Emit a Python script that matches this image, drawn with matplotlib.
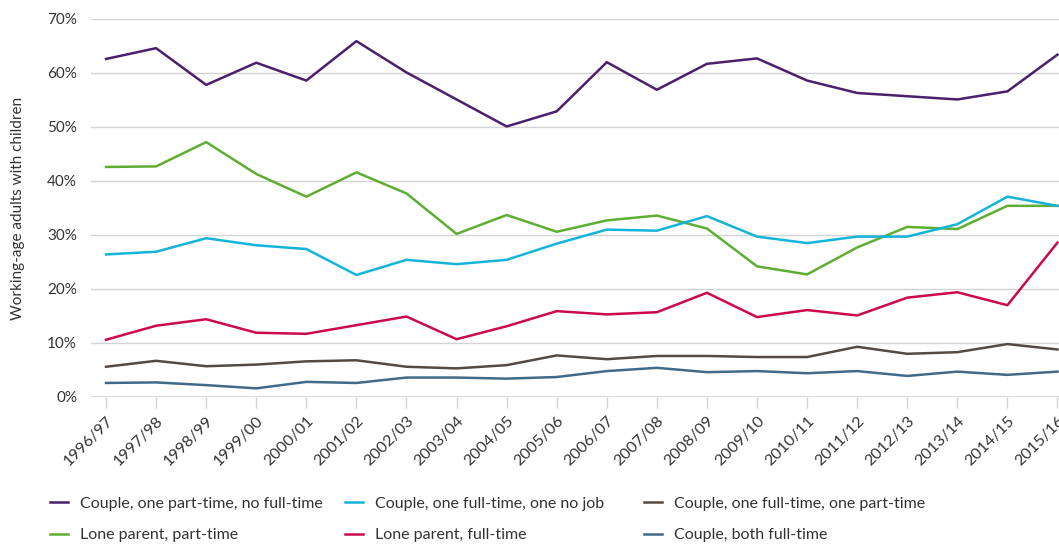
import matplotlib
matplotlib.use("Agg")
import matplotlib.pyplot as plt
from matplotlib.ticker import FuncFormatter

plt.rcParams['font.family'] = ['Lato', 'DejaVu Sans']

years = ["1996/97", "1997/98", "1998/99", "1999/00", "2000/01", "2001/02", "2002/03",
         "2003/04", "2004/05", "2005/06", "2006/07", "2007/08", "2008/09", "2009/10",
         "2010/11", "2011/12", "2012/13", "2013/14", "2014/15", "2015/16"]

couple_pt_no_ft = [62.6, 64.6, 57.8, 61.9, 58.6, 65.9, 60.1, 55.1, 50.1, 52.9,
                   62.0, 56.9, 61.7, 62.7, 58.6, 56.3, 55.7, 55.1, 56.6, 63.4]
lone_pt = [42.6, 42.7, 47.2, 41.3, 37.1, 41.6, 37.7, 30.2, 33.7, 30.6,
           32.7, 33.6, 31.2, 24.2, 22.7, 27.7, 31.5, 31.1, 35.4, 35.4]
couple_ft_nojob = [26.4, 26.9, 29.4, 28.1, 27.4, 22.6, 25.4, 24.6, 25.4, 28.4,
                   31.0, 30.8, 33.5, 29.7, 28.5, 29.7, 29.7, 32.0, 37.1, 35.4]
lone_ft = [10.6, 13.2, 14.4, 11.9, 11.7, 13.3, 14.9, 10.7, 13.1, 15.9,
           15.3, 15.7, 19.3, 14.8, 16.1, 15.1, 18.4, 19.4, 17.0, 28.6]
couple_ft_pt = [5.6, 6.7, 5.7, 6.0, 6.6, 6.8, 5.6, 5.3, 5.9, 7.7,
                7.0, 7.6, 7.6, 7.4, 7.4, 9.3, 8.0, 8.3, 9.8, 8.8]
couple_both_ft = [2.6, 2.7, 2.2, 1.6, 2.8, 2.6, 3.6, 3.6, 3.4, 3.7,
                  4.8, 5.4, 4.6, 4.8, 4.4, 4.8, 3.9, 4.7, 4.1, 4.7]

labels = ["Couple, one part-time, no full-time", "Lone parent, part-time",
          "Couple, one full-time, one no job", "Lone parent, full-time",
          "Couple, one full-time, one part-time", "Couple, both full-time"]
values = [couple_pt_no_ft, lone_pt, couple_ft_nojob, lone_ft, couple_ft_pt, couple_both_ft]
colors = ["#4B1F6B", "#5DAE31", "#14B4DA", "#CC0A4A", "#544A44", "#416A88"]

W, H = 1059, 544
fig = plt.figure(figsize=(W/100, H/100), dpi=100)
ax = fig.add_axes([91/W, 1-397/H, 1-91/W, (397-19)/H])

x = list(range(len(years)))
lines = []
for label, vals, color in zip(labels, values, colors):
    ln, = ax.plot(x, vals, color=color, lw=1.8, label=label)
    lines.append(ln)

ax.set_xlim(-0.3, 19.03)
ax.set_ylim(0, 70)
ax.set_yticks(range(0, 71, 10))
ax.yaxis.set_major_formatter(FuncFormatter(lambda v, p: f"{int(v)}%"))
ax.grid(axis='y', color='#d3d3d3', lw=1)
ax.set_axisbelow(True)
for s in ax.spines.values():
    s.set_visible(False)
ax.tick_params(axis='y', length=0, pad=10, labelsize=11, labelcolor='#333333')
ax.set_xticks(x)
ax.set_xticklabels(years, rotation=45, ha='right', rotation_mode='anchor')
ax.tick_params(axis='x', length=8, color='#d3d3d3', width=1, pad=4, labelsize=11.5, labelcolor='#333333')
ax.axhline(0, color='#d3d3d3', lw=1.2)
ax.set_ylabel("Working-age adults with children", fontsize=11, color='#333333', labelpad=16)

col_x = [50, 345, 644]
for i, cx in enumerate(col_x):
    hs = lines[2*i:2*i+2]
    leg = fig.legend(handles=hs, labels=[h.get_label() for h in hs],
                     loc='center left', bbox_to_anchor=(cx/W, 1-519.5/H),
                     frameon=False, fontsize=11.5, handlelength=1.15,
                     handletextpad=0.7, labelspacing=1.1, borderpad=0,
                     borderaxespad=0)
    for t in leg.get_texts():
        t.set_color('#333333')

fig.savefig("out.png", dpi=100)
